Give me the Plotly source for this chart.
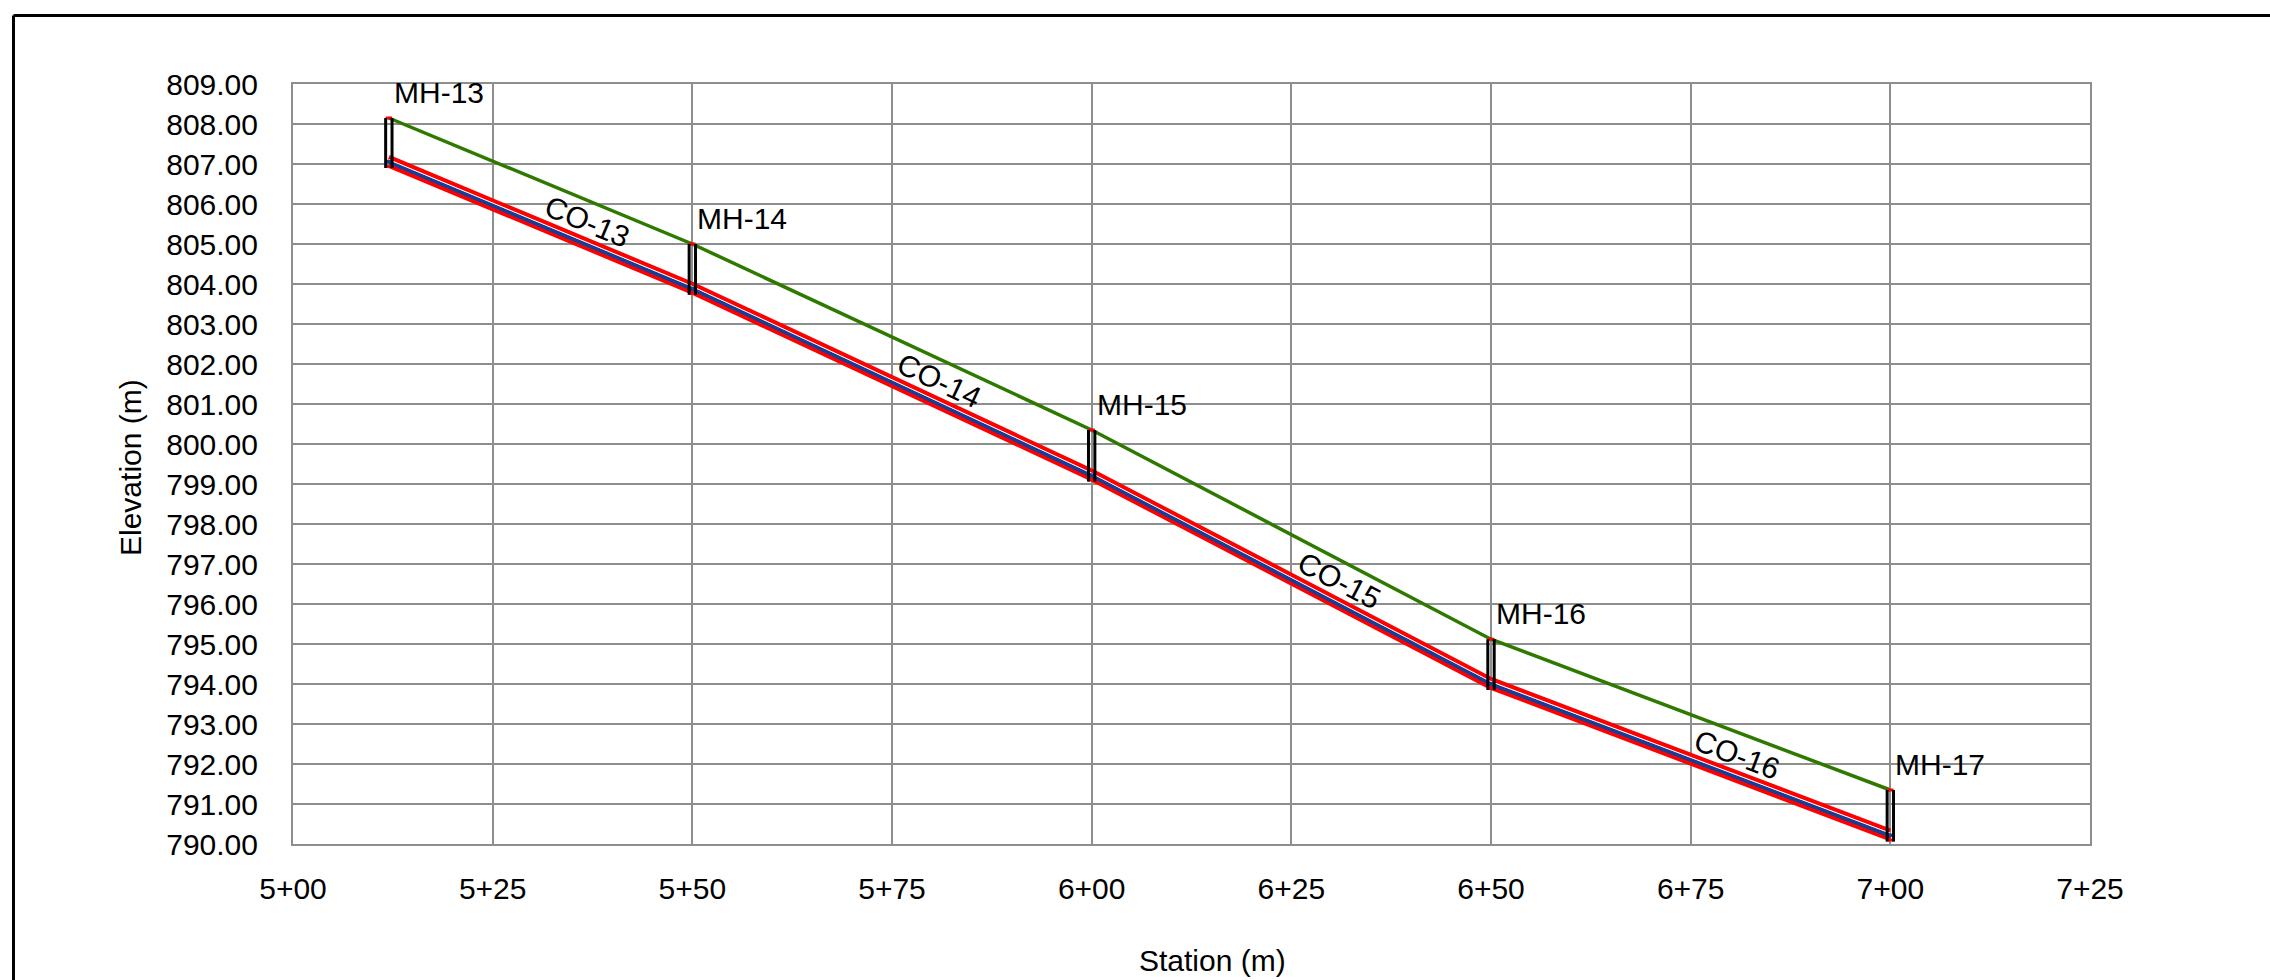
import math
import plotly.graph_objects as go

# ---------------- data ----------------
mh_names = ["MH-13", "MH-14", "MH-15", "MH-16", "MH-17"]
mh_station = [512.0, 550.0, 600.0, 650.0, 700.0]
mh_rim = [808.15, 805.00, 800.35, 795.12, 791.35]
mh_invert = [806.96, 803.79, 799.12, 793.91, 790.12]

pipe_names = ["CO-13", "CO-14", "CO-15", "CO-16"]
pipe_diameter = 0.21

x_tick_vals = [500, 525, 550, 575, 600, 625, 650, 675, 700, 725]
x_tick_text = ["5+00", "5+25", "5+50", "5+75", "6+00", "6+25", "6+50", "6+75", "7+00", "7+25"]
y_range = [790, 809]

# ---------------- layout constants ----------------
W, H = 2270, 980
ML, MR, MT, MB = 293, 180, 84, 136
PW, PH = W - ML - MR, H - MT - MB
x_range = [x_tick_vals[0], x_tick_vals[-1]]
px_per_m = PW / (x_range[1] - x_range[0])
px_per_elev = PH / (y_range[1] - y_range[0])

FONT = "Arial, Liberation Sans, sans-serif"
RED = "#ff0000"
BLUE = "rgb(22,62,150)"
GREEN = "rgb(46,122,0)"
GRID = "#8e8e8e"

fig = go.Figure()


def seg_trace(xs, ys, color, width):
    fig.add_trace(go.Scatter(x=xs, y=ys, mode="lines", hoverinfo="skip",
                             line=dict(color=color, width=width), showlegend=False))


# ground (rim) line
seg_trace(mh_station, mh_rim, GREEN, 3.5)

# pipes
blue_off = 0.09
white_off = 0.15
seg_trace(mh_station, [v + pipe_diameter for v in mh_invert], RED, 4.5)
seg_trace(mh_station, mh_invert, RED, 4.5)
seg_trace(mh_station, [v + blue_off for v in mh_invert], BLUE, 4)
seg_trace(mh_station, [v + white_off for v in mh_invert], "white", 1)

# manholes
half_w = 0.4
for s, r, inv in zip(mh_station, mh_rim, mh_invert):
    seg_trace([s - half_w, s + half_w], [r, r], RED, 3)
    seg_trace([s - half_w, s + half_w], [inv - 0.02, inv - 0.02], RED, 3)
    seg_trace([s - half_w, s + half_w], [inv + 0.1, inv + 0.1], BLUE, 3.5)
    xs = [s - half_w, s - half_w, None, s + half_w, s + half_w]
    ys = [inv - 0.06, r, None, inv - 0.06, r]
    seg_trace(xs, ys, "black", 3)

annotations = []
# manhole labels
for name, s, r in zip(mh_names, mh_station, mh_rim):
    annotations.append(dict(x=s, y=r, xref="x", yref="y", text=name, showarrow=False,
                            xanchor="left", yanchor="middle", xshift=3, yshift=26,
                            font=dict(family=FONT, size=30, color="black")))

# pipe labels
label_offset_m = 5.0
for i, name in enumerate(pipe_names):
    s0, s1 = mh_station[i], mh_station[i + 1]
    c0, c1 = mh_invert[i] + pipe_diameter, mh_invert[i + 1] + pipe_diameter
    s = (s0 + s1) / 2 + label_offset_m
    c = c0 + (s - s0) / (s1 - s0) * (c1 - c0)
    dx = (s1 - s0) * px_per_m
    dy = (c0 - c1) * px_per_elev
    th = math.atan2(dy, dx)
    d = 17
    annotations.append(dict(x=s, y=c, xref="x", yref="y", text=name, showarrow=False,
                            textangle=math.degrees(th), xanchor="center", yanchor="middle",
                            xshift=d * math.sin(th), yshift=d * math.cos(th),
                            font=dict(family=FONT, size=30, color="black")))


def px_to_paper(px, py):
    return (px - ML) / PW, (H - MB - py) / PH


tx, ty = px_to_paper(1212, 960)
annotations.append(dict(x=tx, y=ty, xref="paper", yref="paper", text="Station (m)", showarrow=False,
                        xanchor="center", yanchor="middle", font=dict(family=FONT, size=30, color="black")))
ex, ey = px_to_paper(130, 468)
annotations.append(dict(x=ex, y=ey, xref="paper", yref="paper", text="Elevation (m)", showarrow=False,
                        textangle=-90, xanchor="center", yanchor="middle",
                        font=dict(family=FONT, size=30, color="black")))

# outer frame (left and top edges)
bx0, by0 = px_to_paper(13.5, 15.5)
bx1, by1 = px_to_paper(2300, 1000)
shapes = [
    dict(type="line", xref="paper", yref="paper", x0=bx0, y0=by0, x1=bx1, y1=by0,
         line=dict(color="black", width=3)),
    dict(type="line", xref="paper", yref="paper", x0=bx0, y0=by0, x1=bx0, y1=by1,
         line=dict(color="black", width=3)),
]

fig.update_layout(
    width=W, height=H,
    margin=dict(l=ML, r=MR, t=MT, b=MB, pad=0),
    paper_bgcolor="white", plot_bgcolor="white",
    showlegend=False,
    annotations=annotations,
    shapes=shapes,
    font=dict(family=FONT, size=30, color="black"),
    xaxis=dict(range=x_range, tickvals=x_tick_vals, ticktext=x_tick_text,
               showgrid=True, gridcolor=GRID, gridwidth=2, zeroline=False,
               showline=True, linecolor=GRID, linewidth=2, mirror=True,
               ticks="", ticklabelstandoff=17,
               tickfont=dict(family=FONT, size=30, color="black")),
    yaxis=dict(range=y_range, dtick=1, tick0=790, tickformat=".2f",
               showgrid=True, gridcolor=GRID, gridwidth=2, zeroline=False,
               showline=True, linecolor=GRID, linewidth=2, mirror=True,
               ticks="", ticklabelstandoff=27,
               tickfont=dict(family=FONT, size=30, color="black")),
)

fig.write_html("out.html", config={"displayModeBar": False},
               post_script="document.body.style.margin='0';document.body.style.overflow='hidden';")
